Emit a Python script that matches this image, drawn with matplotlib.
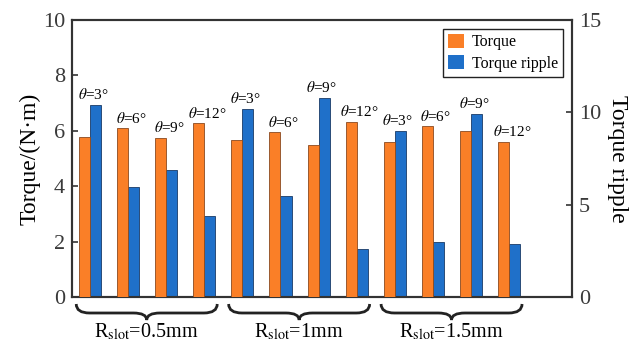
import matplotlib
matplotlib.use("Agg")
import matplotlib.pyplot as plt
from matplotlib.path import Path
from matplotlib.patches import PathPatch, Patch
from matplotlib.transforms import blended_transform_factory
import numpy as np

plt.rcParams['font.family'] = ['Liberation Serif', 'DejaVu Serif']
plt.rcParams['mathtext.fontset'] = 'stix'

angles = ['3', '6', '9', '12'] * 3
groups = ['R$_{\\mathrm{slot}}$=0.5mm', 'R$_{\\mathrm{slot}}$=1mm', 'R$_{\\mathrm{slot}}$=1.5mm']
torque = [5.77, 6.09, 5.74, 6.27, 5.66, 5.94, 5.47, 6.33, 5.58, 6.16, 5.98, 5.59]
ripple = [10.40, 5.95, 6.85, 4.37, 10.20, 5.47, 10.78, 2.59, 9.01, 2.98, 9.93, 2.84]

c_or = '#FA7F27'
c_bl = '#1F70C9'

fig = plt.figure(figsize=(6.32, 3.46), dpi=100)
ax = fig.add_axes([0.114, 0.142, 0.791, 0.800])
ax2 = ax.twinx()

x = np.arange(len(torque))
w = 0.29
ax.bar(x - w/2, torque, w, color=c_or, edgecolor='#8a4a20', linewidth=0.6, zorder=3)
ax2.bar(x + w/2, ripple, w, color=c_bl, edgecolor='#1a3a66', linewidth=0.6, zorder=3)

ax.set_xlim(-0.47, 12.65)
ax.set_ylim(0, 10)
ax2.set_ylim(0, 15)
ax.set_yticks([0, 2, 4, 6, 8, 10])
ax2.set_yticks([0, 5, 10, 15])
ax.set_xticks([])

for a in (ax, ax2):
    for s in a.spines.values():
        s.set_linewidth(1.5)
        s.set_color('#333333')
    a.tick_params(axis='y', direction='in', length=4, width=1.2, labelsize=16,
                  colors='#333333', labelcolor='#3a3a3a', pad=5)

ax.set_ylabel('Torque/(N·m)', fontsize=17, labelpad=2)
ax2.set_ylabel('Torque ripple', fontsize=17, rotation=-90, labelpad=19)

# angle labels
for i in range(len(torque)):
    top = max(torque[i], ripple[i] * 10 / 15)
    ax.annotate('$\\theta$=' + angles[i] + '°', (x[i] + 0.08, top), xytext=(0, 2),
                textcoords='offset points', ha='center', va='bottom', fontsize=11)

# braces
tr = blended_transform_factory(ax.transData, fig.transFigure)
ytop, ymid, ybot = 1 - 304/346, 1 - 313/346, 1 - 320/346
for g in range(3):
    x0 = 4 * g - 0.36
    x1 = 4 * g + 3 + 0.34
    xm = (x0 + x1) / 2
    q = 0.35
    verts = [(x0, ytop), (x0, ymid), (x0 + q, ymid), (x0 + q, ymid),
             (xm - q, ymid), (xm, ymid), (xm, ybot),
             (xm, ymid), (xm + q, ymid),
             (x1 - q, ymid), (x1 - q, ymid), (x1, ymid), (x1, ytop)]
    codes = [Path.MOVETO, Path.CURVE3, Path.CURVE3, Path.LINETO,
             Path.LINETO, Path.CURVE3, Path.CURVE3,
             Path.CURVE3, Path.CURVE3,
             Path.LINETO, Path.LINETO, Path.CURVE3, Path.CURVE3]
    p = PathPatch(Path(verts, codes), transform=tr, fill=False, lw=2.0,
                  edgecolor='#222222', clip_on=False)
    fig.add_artist(p)
    fig.text(tr.transform((xm, 0))[0] / fig.bbox.width, 1 - 337/346, groups[g],
             ha='center', va='baseline', fontsize=14.5)

handles = [Patch(facecolor=c_or, label='Torque'), Patch(facecolor=c_bl, label='Torque ripple')]
leg = ax.legend(handles=handles, loc='upper right', bbox_to_anchor=(0.982, 0.968), fontsize=11.5,
                frameon=True, fancybox=False, edgecolor='#222222', framealpha=1,
                handlelength=1.0, handleheight=1.0, handletextpad=0.5, borderpad=0.3,
                labelspacing=0.3, borderaxespad=0)
leg.get_frame().set_linewidth(1.0)
ax.set_zorder(ax2.get_zorder() + 1)
ax.patch.set_visible(False)

fig.savefig('out.png', dpi=100)
